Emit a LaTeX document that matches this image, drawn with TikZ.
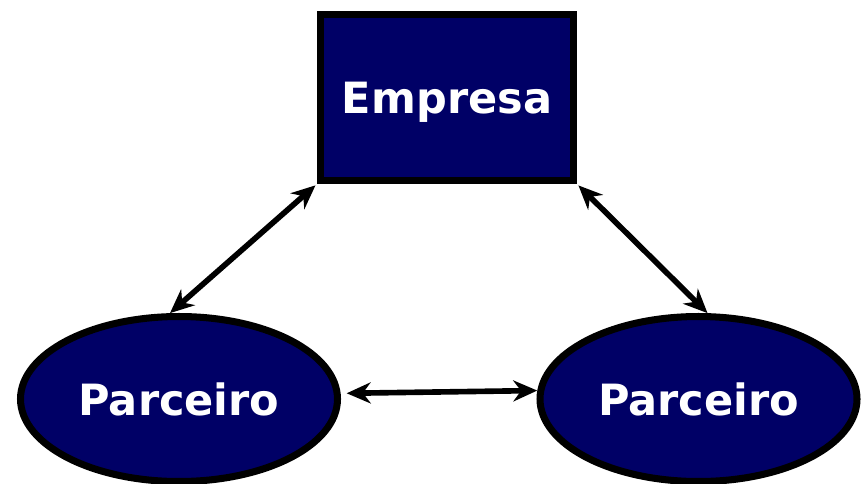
\documentclass[tikz,border=0pt]{standalone}
\usepackage{fontspec}
\setmainfont{DejaVu Sans}
\usetikzlibrary{shapes.geometric}
\usetikzlibrary{arrows.meta}

\definecolor{navyfill}{RGB}{0,0,102}

\tikzset{
  boxnode/.style={rectangle,minimum width=5.06cm,minimum height=3.32cm,inner sep=0pt,text depth=0pt,draw=black,line width=4pt,fill=navyfill,text=white,font=\fontsize{24.5}{28}\selectfont\bfseries},
  ovalnode/.style={ellipse,minimum width=6.34cm,minimum height=3.3cm,inner sep=0pt,text depth=0pt,draw=black,line width=4pt,fill=navyfill,text=white,font=\fontsize{24.5}{28}\selectfont\bfseries},
  link/.style={line width=3.2pt,{Stealth[length=0.48cm,width=0.42cm]}-{Stealth[length=0.48cm,width=0.42cm]}}
}

\begin{document}
\begin{tikzpicture}
\useasboundingbox (0,0) rectangle (17.3,-9.66);
\draw (8.94,-1.95)node[boxnode](emp){Empresa};
\draw (3.58,-7.98)node[ovalnode](p1){Parceiro};
\draw (13.97,-7.98)node[ovalnode](p2){Parceiro};

\draw[link,shorten >=0.04cm](p1.96)--(emp.south west);
\draw[link,shorten <=0.04cm](emp.south east)--(p2.84);
\draw[link,shorten <=0.12cm](p1.2)--(p2.177);
\end{tikzpicture}
\end{document}
